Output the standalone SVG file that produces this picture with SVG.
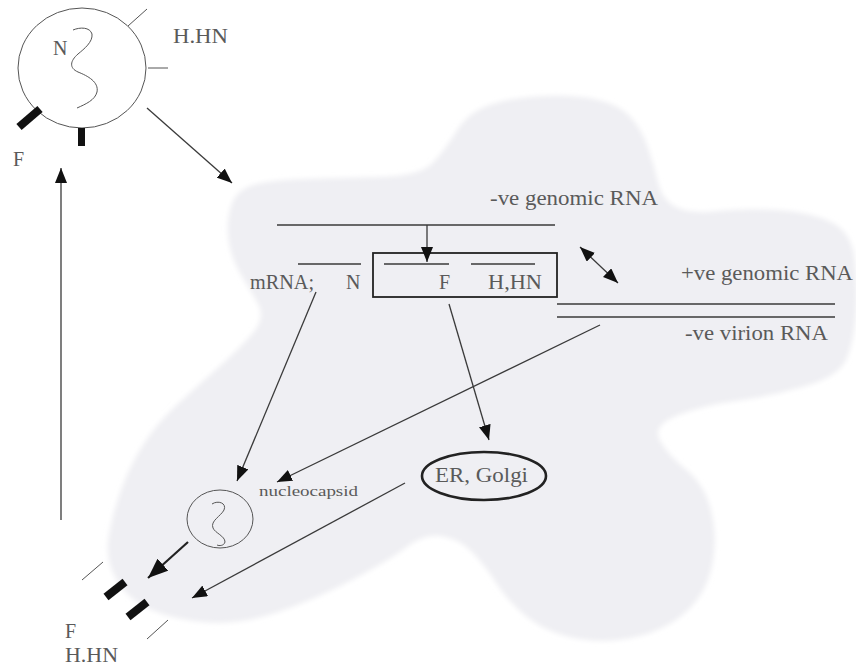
<svg xmlns="http://www.w3.org/2000/svg" width="856" height="671" viewBox="0 0 856 671">
  <style>
    .t { font-family: "Liberation Serif", "Times New Roman", serif; font-size: 20px; fill: #5a5a5a; }
    .sm { font-size: 15px; }
    .ln { stroke: #3a3a3a; stroke-width: 1.3; fill: none; }
    .thin { stroke: #555; stroke-width: 1; fill: none; }
    .bar { stroke: #111; stroke-width: 8; stroke-linecap: butt; }
  </style>
  <defs>
    <marker id="arr" markerUnits="userSpaceOnUse" markerWidth="15" markerHeight="12" refX="15" refY="6" orient="auto-start-reverse">
      <path d="M0,0 L15,6 L0,12 z" fill="#111"/>
    </marker>
    <marker id="arrBig" markerUnits="userSpaceOnUse" markerWidth="20" markerHeight="16" refX="20" refY="8" orient="auto">
      <path d="M0,0 L20,8 L0,16 z" fill="#111"/>
    </marker>
    <filter id="soft" x="-5%" y="-5%" width="110%" height="110%">
      <feGaussianBlur stdDeviation="2.5"/>
    </filter>
  </defs>

  <rect width="856" height="671" fill="#fff"/>

  <!-- host cell -->
  <g id="cell">
    <path fill="#efeff3" filter="url(#soft)" d="M252,334 Q266,318 258,304 Q250,290 240.5,274 Q231,258 228.5,240 Q226,222 231,206 Q236,190 253,185 Q270,180 305,179 Q340,178 380,177 Q420,176 432.5,163 Q445,150 456.5,131 Q468,112 491,104.5 Q514,97 545.5,96 Q577,95 598.5,100 Q620,105 631,117.5 Q642,130 648,147.5 Q654,165 658,182.5 Q662,200 676,207 Q690,214 717.5,211 Q745,208 777.5,210 Q810,212 831,222 Q852,232 855,261 Q858,290 856,315 Q854,340 847,358 Q840,376 806,386 Q772,396 736,401 Q700,406 676,416 Q652,426 660,440.5 Q668,455 686,469.5 Q704,484 710.5,508.5 Q717,533 713.5,558 Q710,583 697,600 Q684,617 664,627 Q644,637 618.5,640 Q593,643 567.5,636.5 Q542,630 524.5,615 Q507,600 496.5,583.5 Q486,567 473.5,553.5 Q461,540 443,536.5 Q425,533 407.5,546.5 Q390,560 352,580 Q314,600 277,612.5 Q240,625 207.5,622.5 Q175,620 151.5,610 Q128,600 116.5,580 Q105,560 108.5,537.5 Q112,515 121,490 Q130,465 143.5,444 Q157,423 176,405.5 Q195,388 216.5,369 Q238,350 252,334 Z"/>
  </g>

  <!-- free virion -->
  <g id="virion">
    <ellipse cx="82" cy="68" rx="64" ry="60" class="thin"/>
    <path class="thin" d="M73,30 C80,27 90,27 92,34 C93,42 84,49 78,54 C70,61 69,68 78,72 C88,76 99,82 97,92 C95,100 86,104 77,108"/>
    <line x1="128" y1="26" x2="147" y2="9" class="thin"/>
    <line x1="148" y1="68" x2="168" y2="68" class="thin"/>
    <line x1="19" y1="127" x2="40" y2="109" class="bar"/>
    <rect x="78" y="128" width="7" height="18" fill="#111"/>
    <text x="53" y="55" class="t">N</text>
    <text x="173" y="43" class="t" textLength="55" lengthAdjust="spacingAndGlyphs">H.HN</text>
    <text x="13" y="166" class="t">F</text>
  </g>

  <!-- RNA strands and transcripts -->
  <g id="genomic-rna">
    <line x1="277" y1="225" x2="555" y2="225" class="ln"/>
    <text x="490" y="205" class="t" textLength="168" lengthAdjust="spacingAndGlyphs">-ve genomic RNA</text>
  </g>

  <g id="mrna">
    <rect x="373" y="253" width="184" height="44" fill="none" stroke="#222" stroke-width="1.8"/>
    <line x1="298" y1="264" x2="361" y2="264" class="ln"/>
    <line x1="384" y1="264" x2="449" y2="264" class="ln"/>
    <line x1="471" y1="264" x2="535" y2="264" class="ln"/>
    <text x="250" y="289" class="t" textLength="64" lengthAdjust="spacingAndGlyphs">mRNA;</text>
    <text x="346" y="289" class="t">N</text>
    <text x="439" y="289" class="t">F</text>
    <text x="488" y="289" class="t" textLength="54" lengthAdjust="spacingAndGlyphs">H,HN</text>
  </g>

  <g id="replicative-rna">
    <line x1="557" y1="304" x2="835" y2="304" class="ln"/>
    <line x1="557" y1="317" x2="835" y2="317" class="ln" stroke-width="1.8"/>
    <text x="681" y="280" class="t" textLength="172" lengthAdjust="spacingAndGlyphs">+ve genomic RNA</text>
    <text x="685" y="340" class="t" textLength="143" lengthAdjust="spacingAndGlyphs">-ve virion RNA</text>
  </g>

  <g id="er-golgi">
    <ellipse cx="484" cy="476" rx="62" ry="24" fill="none" stroke="#222" stroke-width="2.6"/>
    <text x="435" y="482" class="t" textLength="93" lengthAdjust="spacingAndGlyphs">ER, Golgi</text>
  </g>

  <g id="nucleocapsid">
    <ellipse cx="220" cy="519" rx="33" ry="29" class="thin"/>
    <path class="thin" d="M212,504 C218,500 227,503 224,510 C221,516 210,521 213,528 C215,533 225,536 225,542 C224,546 219,546 217,545"/>
    <text x="259" y="496" class="t sm" textLength="99" lengthAdjust="spacingAndGlyphs">nucleocapsid</text>
  </g>

  <!-- budding site on the membrane -->
  <g id="budding">
    <line x1="82" y1="580" x2="103" y2="562" class="thin"/>
    <line x1="147" y1="639" x2="168" y2="620" class="thin"/>
    <line x1="106" y1="597" x2="125" y2="582" class="bar"/>
    <line x1="128" y1="617" x2="147" y2="602" class="bar"/>
    <text x="65" y="638" class="t">F</text>
    <text x="65" y="662" class="t" textLength="53" lengthAdjust="spacingAndGlyphs">H.HN</text>
  </g>

  <!-- connectors -->
  <g id="connectors">
    <line x1="147" y1="108" x2="232" y2="183" class="ln" marker-end="url(#arr)"/>
    <line x1="61" y1="520" x2="61" y2="168" class="ln" marker-end="url(#arr)"/>
    <line x1="427" y1="225" x2="427" y2="262" class="ln" marker-end="url(#arr)"/>
    <line x1="580" y1="247" x2="618" y2="283" class="ln" marker-start="url(#arr)" marker-end="url(#arr)"/>
    <line x1="316" y1="292" x2="237" y2="481" class="ln" marker-end="url(#arr)"/>
    <line x1="600" y1="325" x2="277" y2="482" class="ln" marker-end="url(#arr)"/>
    <line x1="449" y1="304" x2="489" y2="440" class="ln" marker-end="url(#arr)"/>
    <line x1="405" y1="483" x2="192" y2="598" class="ln" marker-end="url(#arr)"/>
    <line x1="188" y1="542" x2="148" y2="578" stroke="#222" stroke-width="2.2" marker-end="url(#arrBig)"/>
  </g>
</svg>
